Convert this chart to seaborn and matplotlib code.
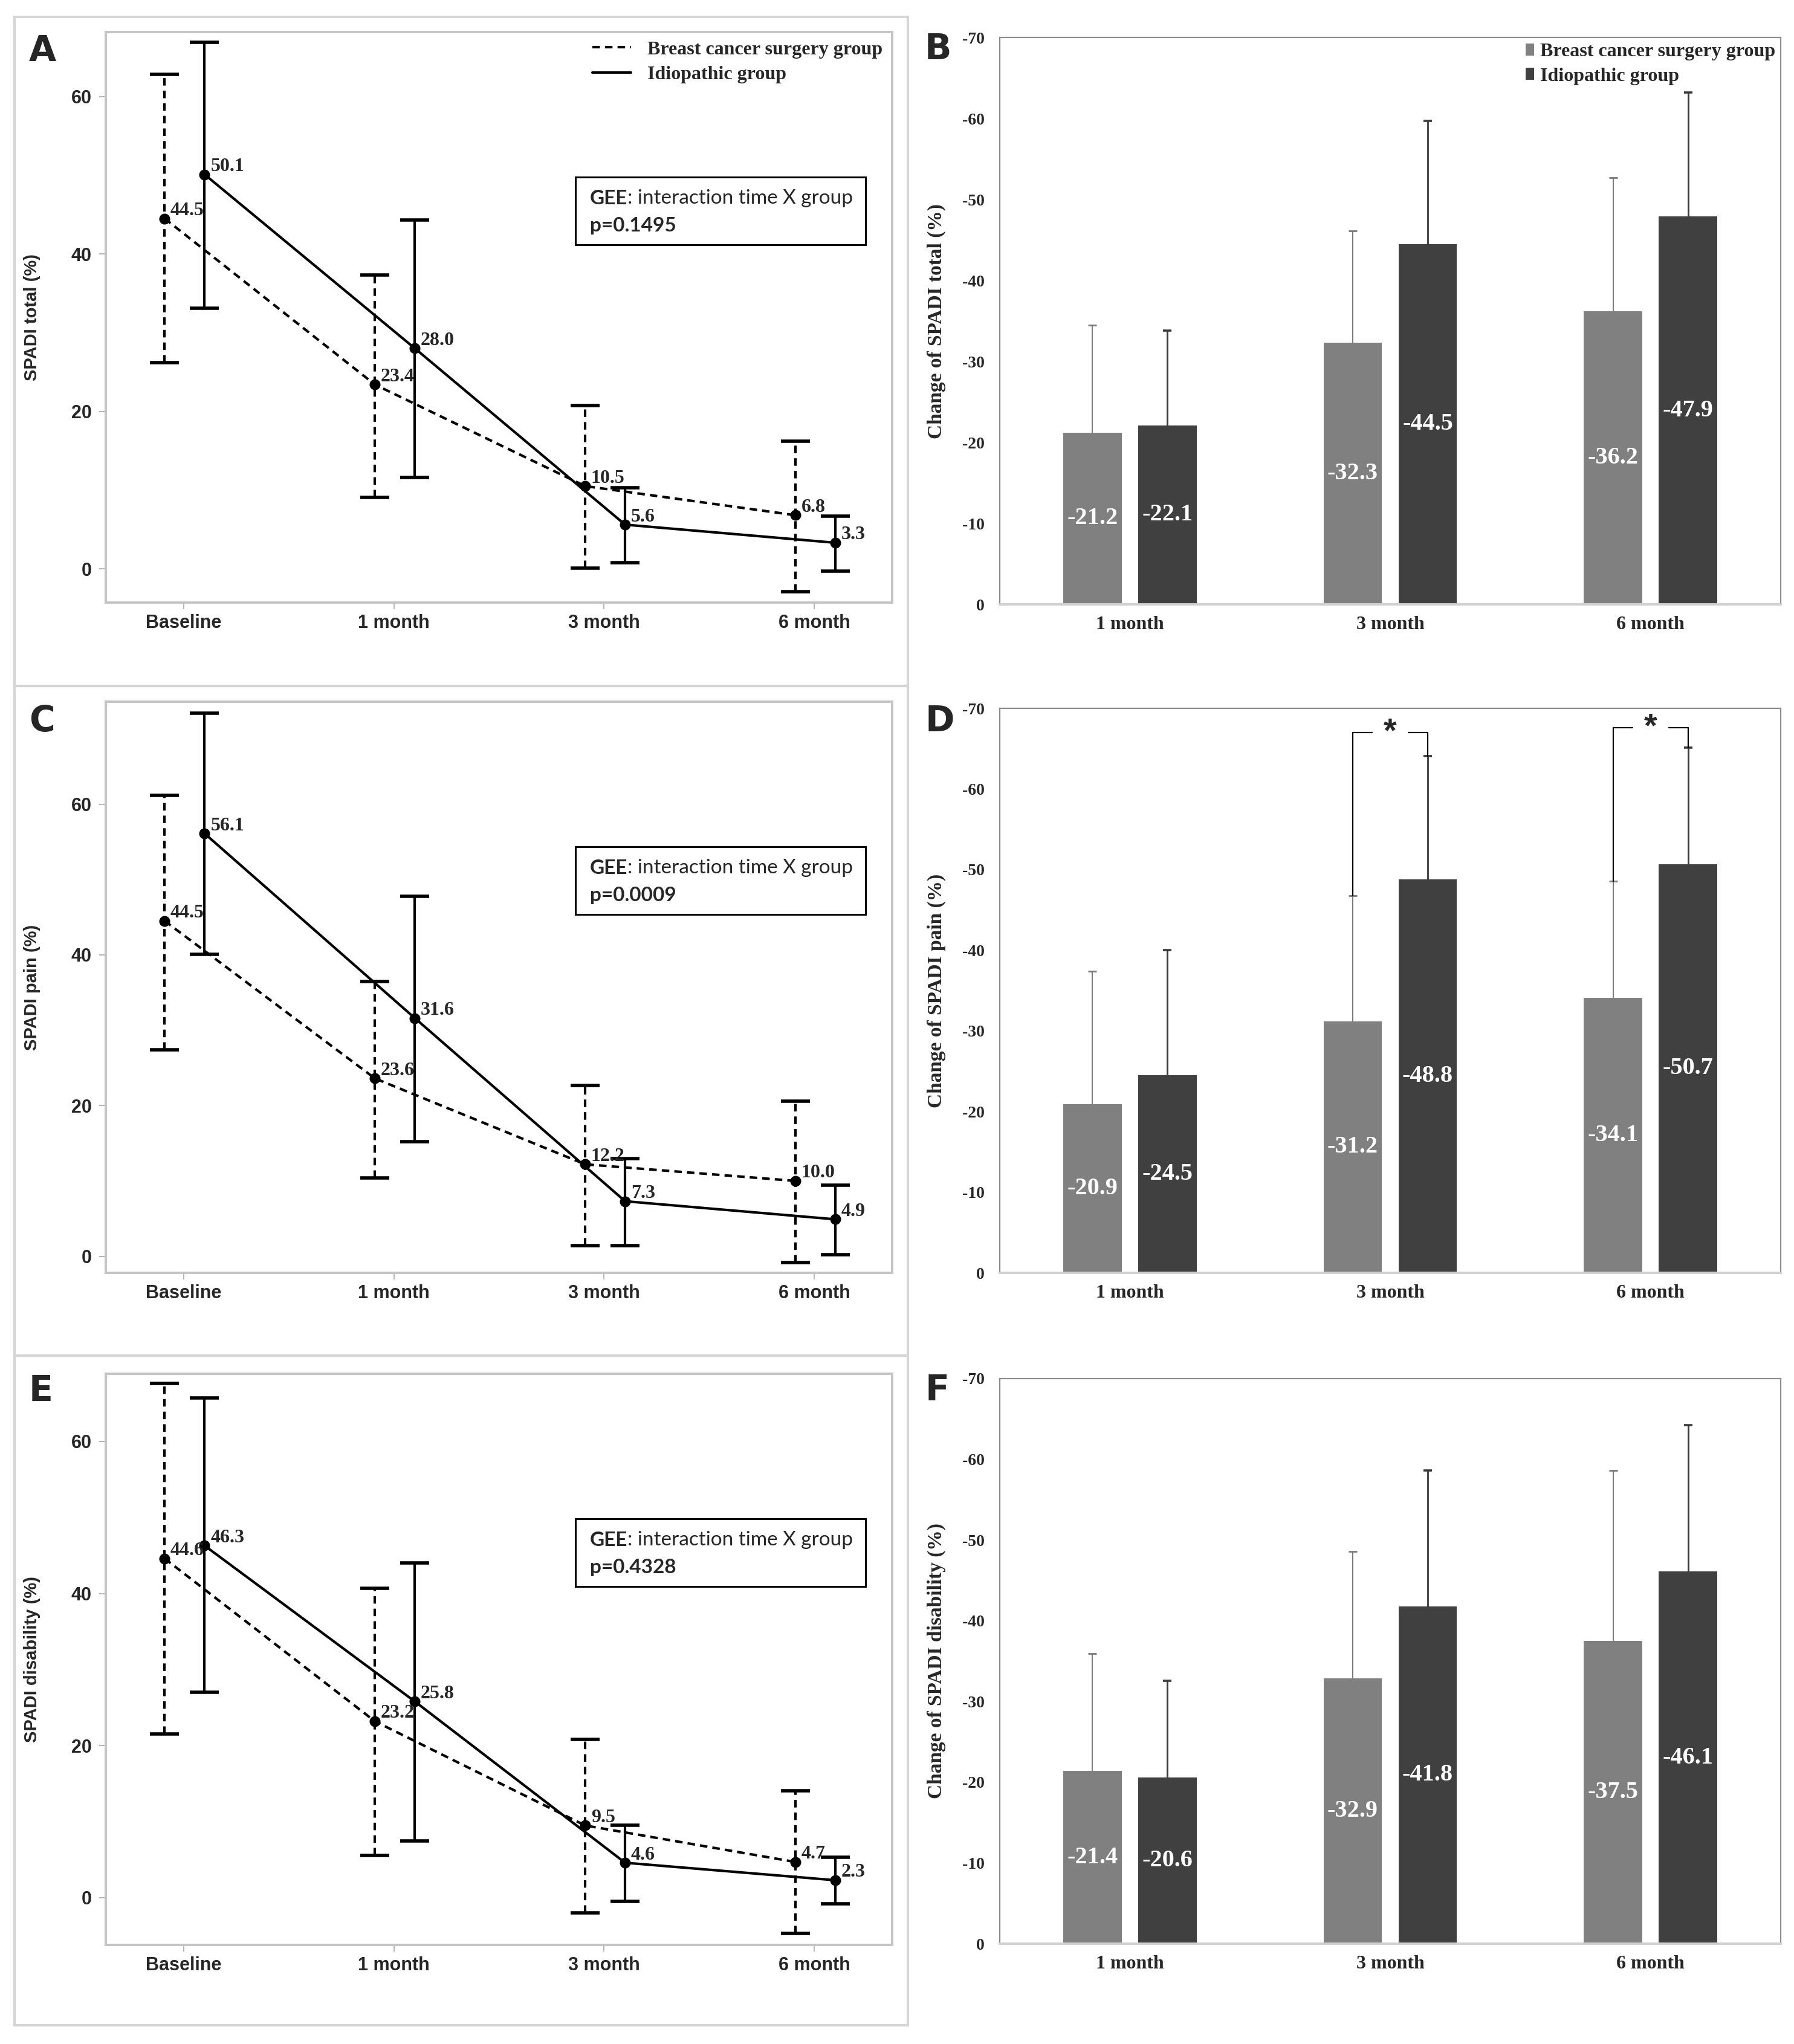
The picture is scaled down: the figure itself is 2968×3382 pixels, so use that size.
import numpy as np
import pandas as pd
import matplotlib
matplotlib.use("Agg")
import matplotlib.pyplot as plt
import seaborn as sns
from matplotlib.lines import Line2D
from matplotlib.patches import Rectangle, Patch

# ---------------- data ----------------
periods_line = ["Baseline", "1 month", "3 month", "6 month"]
periods_bar = ["1 month", "3 month", "6 month"]
groups = ["Breast cancer surgery group", "Idiopathic group"]

# Panel A: SPADI total (mean, lower/upper error limits)
total_breast_mean = [44.5, 23.4, 10.5, 6.8]
total_breast_lo = [26.2, 9.1, 0.1, -2.9]
total_breast_hi = [62.8, 37.3, 20.7, 16.2]
total_idio_mean = [50.1, 28.0, 5.6, 3.3]
total_idio_lo = [33.1, 11.6, 0.8, -0.3]
total_idio_hi = [66.9, 44.3, 10.3, 6.7]
total_p = "p=0.1495"

# Panel C: SPADI pain
pain_breast_mean = [44.5, 23.6, 12.2, 10.0]
pain_breast_lo = [27.4, 10.4, 1.4, -0.8]
pain_breast_hi = [61.2, 36.5, 22.7, 20.6]
pain_idio_mean = [56.1, 31.6, 7.3, 4.9]
pain_idio_lo = [40.1, 15.2, 1.4, 0.2]
pain_idio_hi = [72.1, 47.8, 13.0, 9.4]
pain_p = "p=0.0009"

# Panel E: SPADI disability
dis_breast_mean = [44.6, 23.2, 9.5, 4.7]
dis_breast_lo = [21.5, 5.6, -2.0, -4.7]
dis_breast_hi = [67.6, 40.7, 20.8, 14.1]
dis_idio_mean = [46.3, 25.8, 4.6, 2.3]
dis_idio_lo = [27.0, 7.5, -0.5, -0.8]
dis_idio_hi = [65.7, 44.0, 9.5, 5.3]
dis_p = "p=0.4328"

# Panel B: change of SPADI total (%) and SD
chg_total_breast = [-21.2, -32.3, -36.2]
chg_total_breast_sd = [13.3, 13.8, 16.5]
chg_total_idio = [-22.1, -44.5, -47.9]
chg_total_idio_sd = [11.7, 15.2, 15.3]

# Panel D: change of SPADI pain (%) and SD
chg_pain_breast = [-20.9, -31.2, -34.1]
chg_pain_breast_sd = [16.5, 15.6, 14.5]
chg_pain_idio = [-24.5, -48.8, -50.7]
chg_pain_idio_sd = [15.5, 15.3, 14.4]
pain_sig_level = [None, -67.0, -67.6]

# Panel F: change of SPADI disability (%) and SD
chg_dis_breast = [-21.4, -32.9, -37.5]
chg_dis_breast_sd = [14.5, 15.7, 21.1]
chg_dis_idio = [-20.6, -41.8, -46.1]
chg_dis_idio_sd = [12.0, 16.8, 18.1]

# ---------------- style ----------------
sns.set_style("white")
plt.rcParams["font.family"] = ["Liberation Sans", "DejaVu Sans"]
plt.rcParams["axes.unicode_minus"] = False

W, H = 2968, 3382
DPI = 200
fig = plt.figure(figsize=(W / DPI, H / DPI), dpi=DPI)
fig.patch.set_facecolor("white")


def rect(x0, y0, x1, y1):
    return [x0 / W, 1 - y1 / H, (x1 - x0) / W, (y1 - y0) / H]


SERIF_B = dict(family="Liberation Serif", weight="bold")
SANS_B = dict(family="Liberation Sans", weight="bold")
DODGE = {groups[0]: -0.09, groups[1]: 0.10}
DASH = (3.0, 2.0)
LW = 1.5
BAR_COLORS = {groups[0]: "#808080", groups[1]: "#404040"}
ERR_COLORS = {groups[0]: "#7a7a7a", groups[1]: "#3a3a3a"}
ERR_LW = {groups[0]: 0.7, groups[1]: 1.0}


def line_panel(ax, bm, blo, bhi, im, ilo, ihi, ylabel, ptext, ylim, legend=False):
    rows = []
    for g, means in zip(groups, [bm, im]):
        for i, _ in enumerate(periods_line):
            rows.append({"group": g, "x": i + DODGE[g], "mean": means[i]})
    df = pd.DataFrame(rows)
    sns.lineplot(data=df, x="x", y="mean", style="group", style_order=groups,
                 dashes={groups[0]: DASH, groups[1]: ""},
                 markers={groups[0]: "o", groups[1]: "o"},
                 color="black", linewidth=LW, markersize=6.5, markeredgewidth=0,
                 estimator=None, sort=False, legend=False, ax=ax, zorder=3)
    for g, means, lo, hi in [(groups[0], bm, blo, bhi), (groups[1], im, ilo, ihi)]:
        means = np.asarray(means)
        xs = np.arange(len(periods_line)) + DODGE[g]
        eb = ax.errorbar(xs, means, yerr=[means - np.asarray(lo), np.asarray(hi) - means],
                         fmt="none", ecolor="black", elinewidth=LW, capsize=8.6,
                         capthick=2.0, zorder=2)
        if g == groups[0]:
            eb.lines[2][0].set_linestyle((0, DASH))
        for x, m in zip(xs, means):
            ax.annotate(f"{m:.1f}", (x, m), xytext=(3.5, 2), textcoords="offset points",
                        ha="left", va="baseline", fontsize=11.5, **SERIF_B)
    ax.set_xlim(-0.37, 3.37)
    ax.set_ylim(*ylim)
    ax.set_xticks(range(len(periods_line)))
    ax.set_xticklabels(periods_line)
    ax.set_yticks([0, 20, 40, 60])
    ax.set_xlabel("")
    ax.set_ylabel(ylabel, fontsize=10.5, **SANS_B)
    ax.yaxis.set_label_coords(-0.083, 0.5)
    for s in ax.spines.values():
        s.set_color("#c4c4c4")
        s.set_linewidth(1.4)
    ax.tick_params(axis="both", length=4, width=0.6, color="#a8a8a8", labelsize=11,
                   bottom=True, left=True)
    ax.tick_params(axis="x", pad=3)
    ax.tick_params(axis="y", pad=4.5)
    for lab in ax.get_xticklabels() + ax.get_yticklabels():
        lab.set_fontweight("bold")
        lab.set_family("Liberation Sans")
    # GEE box
    ax.add_patch(Rectangle((0.597, 0.627), 0.369, 0.119, transform=ax.transAxes,
                           fill=False, edgecolor="black", linewidth=1.1, zorder=4))
    t1 = ax.text(0.6155, 0.708, "GEE", transform=ax.transAxes, fontsize=12,
                 family="Lato", weight="bold", va="center", ha="left")
    ax.annotate(": interaction time X group", xy=(1, 0), xycoords=t1, va="bottom",
                ha="left", fontsize=12, family="Lato")
    ax.text(0.6155, 0.661, ptext, transform=ax.transAxes, fontsize=12,
            family="Lato", weight="bold", va="center", ha="left")
    if legend:
        handles = [Line2D([], [], color="black", lw=LW, ls=(0, DASH)),
                   Line2D([], [], color="black", lw=LW)]
        ax.legend(handles=handles, labels=groups, loc="upper left",
                  bbox_to_anchor=(0.619, 0.985), frameon=False,
                  prop={"family": "Liberation Serif", "weight": "bold", "size": 11.5},
                  handlelength=2.0, handletextpad=0.85, labelspacing=0.38,
                  borderpad=0, borderaxespad=0)


def bar_panel(ax, bv, bsd, iv, isd, ylabel, legend=False, sig=None):
    rows = []
    for g, vals in zip(groups, [bv, iv]):
        for p, v in zip(periods_bar, vals):
            rows.append({"period": p, "group": g, "value": v})
    df = pd.DataFrame(rows)
    sns.barplot(data=df, x="period", y="value", hue="group", order=periods_bar,
                hue_order=groups, palette=BAR_COLORS, width=0.576, gap=0.22,
                errorbar=None, saturation=1, linewidth=0, legend=False, ax=ax, zorder=2)
    centers = {}
    for g, cont, vals, sds in zip(groups, ax.containers[:2], [bv, iv], [bsd, isd]):
        xs = np.array([p.get_x() + p.get_width() / 2 for p in cont.patches])
        centers[g] = xs
        vals = np.asarray(vals)
        eb = ax.errorbar(xs, vals, yerr=[np.asarray(sds), np.zeros(len(vals))], fmt="none",
                         ecolor=ERR_COLORS[g], elinewidth=ERR_LW[g], capsize=2.6,
                         capthick=ERR_LW[g] + 0.3, zorder=1)
        for cl in eb.lines[1]:
            if np.allclose(cl.get_ydata(), vals):
                cl.set_visible(False)
        for x, v in zip(xs, vals):
            ax.text(x, v / 2, f"{v:.1f}", ha="center", va="center", color="white",
                    fontsize=14.5, zorder=5, **SERIF_B)
    if sig is not None:
        for i, lvl in enumerate(sig):
            if lvl is None:
                continue
            xl = centers[groups[0]][i]
            xr = centers[groups[1]][i]
            mid = (xl + xr) / 2
            yl = bv[i] - bsd[i]
            yr = iv[i] - isd[i]
            ax.plot([xl, xl, mid - 0.07], [yl, lvl, lvl], color="black", lw=0.8, zorder=3)
            ax.plot([mid + 0.07, xr, xr], [lvl, lvl, yr], color="black", lw=0.8, zorder=3)
            ax.text(mid, lvl, "*", ha="center", va="center", fontsize=20,
                    family="Liberation Sans", weight="bold", zorder=4)
    ax.set_xlim(-0.5, 2.5)
    ax.set_ylim(0, -70)
    ax.set_yticks(list(range(0, -71, -10)))
    ax.set_yticklabels([str(t) for t in range(0, -71, -10)])
    ax.set_xlabel("")
    ax.set_ylabel(ylabel, fontsize=12, **SERIF_B)
    ax.yaxis.set_label_coords(-0.069, 0.5)
    for k in ["left", "top", "right"]:
        ax.spines[k].set_color("#8c8c8c")
        ax.spines[k].set_linewidth(0.8)
    ax.spines["bottom"].set_color("#d0d0d0")
    ax.spines["bottom"].set_linewidth(1.4)
    ax.tick_params(axis="both", length=0)
    ax.tick_params(axis="y", pad=9, labelsize=10)
    ax.tick_params(axis="x", pad=7, labelsize=11.5)
    for lab in ax.get_xticklabels() + ax.get_yticklabels():
        lab.set_fontweight("bold")
        lab.set_family("Liberation Serif")
    if legend:
        handles = [Patch(facecolor=BAR_COLORS[g], edgecolor="none") for g in groups]
        ax.legend(handles=handles, labels=groups, loc="upper right",
                  bbox_to_anchor=(0.993, 0.99), frameon=False,
                  prop={"family": "Liberation Serif", "weight": "bold", "size": 11.5},
                  handlelength=0.45, handleheight=0.6, handletextpad=0.3,
                  labelspacing=0.35, borderpad=0, borderaxespad=0)


# ---------------- panel frames (left column) ----------------
for (y0, y1) in [(28, 1135), (1135, 2243), (2243, 3351)]:
    fig.patches.append(Rectangle((24 / W, 1 - y1 / H), (1502 - 24) / W, (y1 - y0) / H,
                                 transform=fig.transFigure, fill=False,
                                 edgecolor="#d6d6d6", linewidth=1.5, zorder=0))

axA = fig.add_axes(rect(175, 53, 1476, 997))
axC = fig.add_axes(rect(175, 1161, 1476, 2106))
axE = fig.add_axes(rect(175, 2273, 1476, 3218))
axB = fig.add_axes(rect(1654, 62, 2946, 1000))
axD = fig.add_axes(rect(1654, 1172, 2946, 2106))
axF = fig.add_axes(rect(1654, 2281, 2946, 3216))

line_panel(axA, total_breast_mean, total_breast_lo, total_breast_hi,
           total_idio_mean, total_idio_lo, total_idio_hi,
           "SPADI total (%)", total_p, (-4.3, 68.2), legend=True)
line_panel(axC, pain_breast_mean, pain_breast_lo, pain_breast_hi,
           pain_idio_mean, pain_idio_lo, pain_idio_hi,
           "SPADI pain (%)", pain_p, (-2.2, 73.6))
line_panel(axE, dis_breast_mean, dis_breast_lo, dis_breast_hi,
           dis_idio_mean, dis_idio_lo, dis_idio_hi,
           "SPADI disability (%)", dis_p, (-6.2, 68.9))

bar_panel(axB, chg_total_breast, chg_total_breast_sd, chg_total_idio, chg_total_idio_sd,
          "Change of SPADI total (%)", legend=True)
bar_panel(axD, chg_pain_breast, chg_pain_breast_sd, chg_pain_idio, chg_pain_idio_sd,
          "Change of SPADI pain (%)", sig=pain_sig_level)
bar_panel(axF, chg_dis_breast, chg_dis_breast_sd, chg_dis_idio, chg_dis_idio_sd,
          "Change of SPADI disability (%)")

# panel letters
for letter, x, ybase in [("A", 48, 101), ("B", 1530, 98), ("C", 48, 1210),
                         ("D", 1531, 1210), ("E", 48, 2318), ("F", 1531, 2317)]:
    fig.text(x / W, 1 - ybase / H, letter, ha="left", va="baseline", fontsize=21,
             family="DejaVu Sans", weight="bold")

fig.savefig("out.png", dpi=DPI, facecolor="white")
